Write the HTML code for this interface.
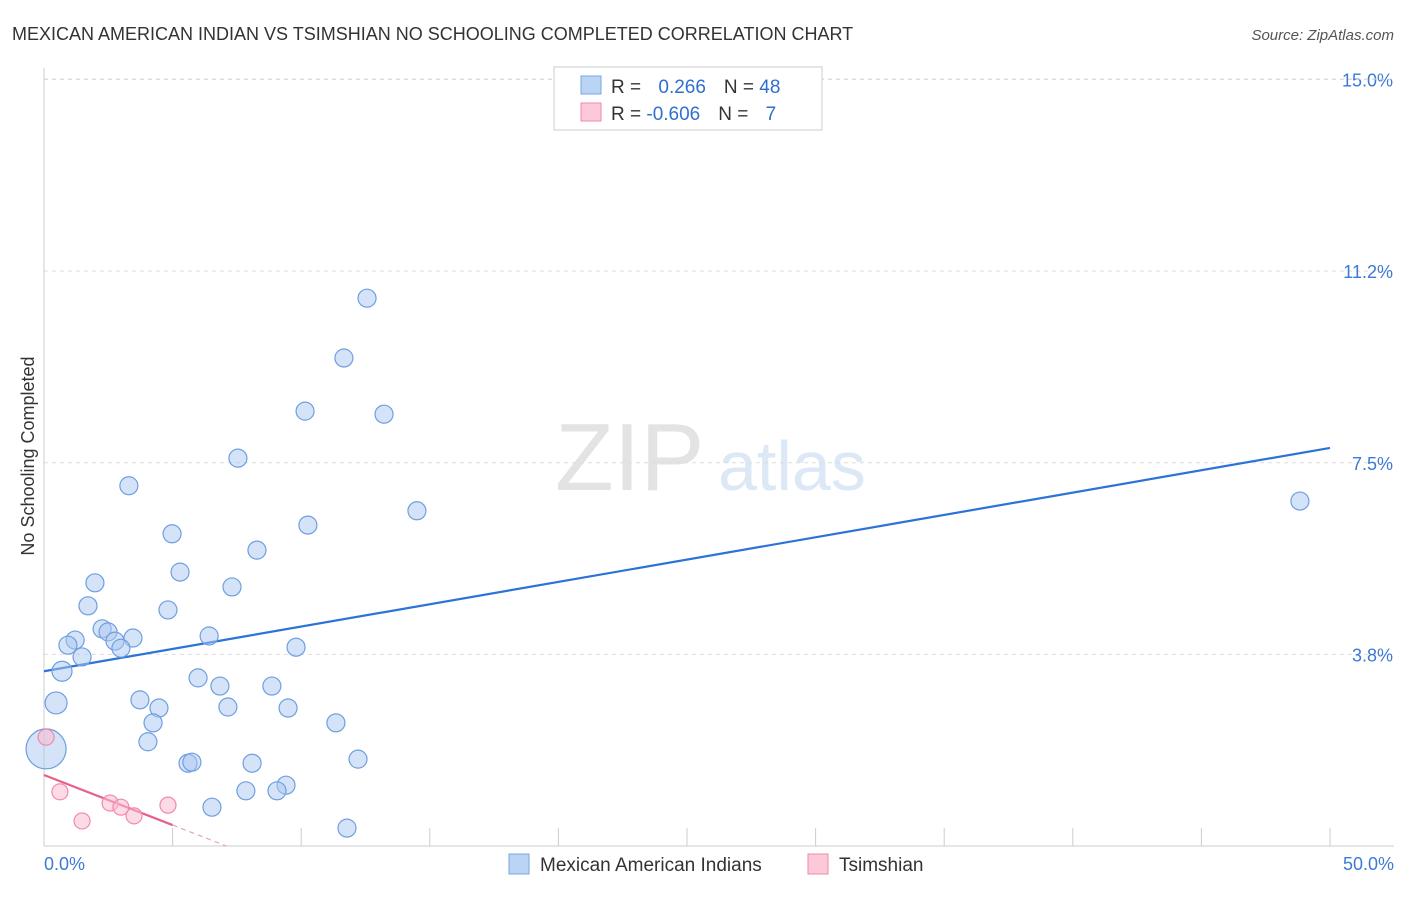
<!DOCTYPE html>
<html><head><meta charset="utf-8"><style>
body{margin:0;background:#fff;font-family:"Liberation Sans",sans-serif;}
svg text{font-family:"Liberation Sans",sans-serif;}
</style></head><body>
<svg id="c" width="1406" height="892">
<text x="12" y="40" font-size="18" fill="#333">MEXICAN AMERICAN INDIAN VS TSIMSHIAN NO SCHOOLING COMPLETED CORRELATION CHART</text>
<text x="1394" y="40" font-size="15" fill="#555" font-style="italic" text-anchor="end">Source: ZipAtlas.com</text>
<text x="34" y="456" font-size="18" fill="#333" transform="rotate(-90 34 456)" text-anchor="middle">No Schooling Completed</text>
<g><text x="555" y="490" font-size="96" font-family="Liberation Serif" fill="#e3e3e3">ZIP</text><text x="718" y="490" font-size="70" fill="#dce8f5">atlas</text></g>
<g id="grid"></g><g id="axes"></g><g id="lines"></g><g id="pts"></g>
<g>
<rect x="554" y="67" width="268" height="63" fill="#fff" stroke="#ccc"/>
<rect x="581" y="76" width="20" height="18" fill="#b9d4f5" stroke="#7aa7e0"/>
<rect x="581" y="103" width="20" height="18" fill="#fbc9d8" stroke="#f08aaa"/>
<text x="611" y="93" font-size="19" fill="#333">R = <tspan fill="#2f6fd0" dx="12">0.266</tspan><tspan fill="#333" dx="18">N = </tspan><tspan fill="#2f6fd0">48</tspan></text>
<text x="611" y="120" font-size="19" fill="#333">R = <tspan fill="#2f6fd0">-0.606</tspan><tspan fill="#333" dx="18">N = </tspan><tspan fill="#2f6fd0" dx="12">7</tspan></text>
</g>
<g>
<rect x="509" y="854" width="20" height="20" fill="#b9d4f5" stroke="#7aa7e0"/>
<text x="540" y="871" font-size="19" fill="#333">Mexican American Indians</text>
<rect x="808" y="854" width="20" height="20" fill="#fbc9d8" stroke="#f08aaa"/>
<text x="839" y="871" font-size="19" fill="#333">Tsimshian</text>
</g>
</svg>
<script>
const yTicks=[3.75,7.5,11.25,15];
const yTickLabels=["3.8%","7.5%","11.2%","15.0%"];
const blueX=[12.56,11.66,10.15,13.22,7.54,3.30,14.50,10.26,4.98,8.28,1.98,5.29,7.31,1.71,4.82,2.26,2.49,1.21,0.93,2.76,3.46,2.99,6.42,1.48,9.80,0.70,0.47,5.99,6.84,8.86,3.73,4.47,7.15,9.49,4.24,11.35,4.04,0.08,5.60,5.75,8.09,12.21,9.41,7.85,9.06,6.53,11.78,48.83];
const blueY=[10.72,9.55,8.51,8.45,7.59,7.05,6.56,6.28,6.11,5.79,5.15,5.36,5.07,4.70,4.62,4.25,4.19,4.03,3.93,4.01,4.07,3.87,4.11,3.70,3.89,3.42,2.80,3.29,3.13,3.13,2.86,2.70,2.72,2.70,2.41,2.41,2.04,1.90,1.62,1.64,1.62,1.70,1.19,1.08,1.08,0.76,0.35,6.75];
const pinkX=[0.08,0.62,1.48,2.57,2.99,3.50,4.82];
const pinkY=[2.13,1.06,0.49,0.84,0.76,0.59,0.80];
const blueTrend=[3.42,0.0874];
const pinkTrend=[1.39,-0.196];
const X=v=>44+v*25.72, Y=v=>846-v*51.1;
const NS="http://www.w3.org/2000/svg";
function mk(p,t,a){const e=document.createElementNS(NS,t);for(const k in a)e.setAttribute(k,a[k]);document.getElementById(p).appendChild(e);return e;}
yTicks.forEach((t,i)=>{
 const l=mk('grid','line',{x1:44,x2:1394,y1:Y(t),y2:Y(t),stroke:'#ddd','stroke-dasharray':'4 4'});
 
 
 const tx=mk('grid','text',{x:1393,y:Y(t)+7,'font-size':18,fill:'#3d7ad6','text-anchor':'end'});tx.textContent=yTickLabels[i];
 
 
});
const g15=mk('grid','line',{x1:44,x2:1394,y1:79,y2:79,stroke:'#ddd','stroke-dasharray':'4 4'});
mk('axes','line',{x1:44,x2:44,y1:68,y2:846,stroke:'#ccc'});
mk('axes','line',{x1:44,x2:1394,y1:846,y2:846,stroke:'#ccc'});
for(let i=0;i<=10;i++){const t=mk('axes','line',{x1:X(i*5),x2:X(i*5),y1:828,y2:846,stroke:'#ccc'});}
const xl0=mk('axes','text',{x:44,y:870,'font-size':18,fill:'#3d7ad6'});xl0.textContent='0.0%';

const xl1=mk('axes','text',{x:1394,y:870,'font-size':18,fill:'#3d7ad6','text-anchor':'end'});xl1.textContent='50.0%';

const bl=mk('lines','line',{x1:X(0),y1:Y(blueTrend[0]),x2:X(50),y2:Y(blueTrend[0]+50*blueTrend[1]),stroke:'#2b73d6','stroke-width':2.2});

const pl=mk('lines','line',{x1:X(0),y1:Y(pinkTrend[0]),x2:X(5),y2:Y(pinkTrend[0]+5*pinkTrend[1]),stroke:'#e8608a','stroke-width':2.2});

const x0=-pinkTrend[0]/pinkTrend[1];
const pd=mk('lines','line',{x1:X(5),y1:Y(pinkTrend[0]+5*pinkTrend[1]),x2:X(x0),y2:Y(0),stroke:'#f0a0b8','stroke-width':1.2,'stroke-dasharray':'5 4'});

blueX.forEach((x,i)=>{let r=9;if(i==37)r=20;else if(i==26)r=11;else if(i==25)r=10;
 const c=mk('pts','circle',{cx:X(x),cy:Y(blueY[i]),r:r,fill:'rgba(170,200,240,0.5)',stroke:'#6e9fe0','stroke-width':1.2});
 });
pinkX.forEach((x,i)=>{const c=mk('pts','circle',{cx:X(x),cy:Y(pinkY[i]),r:8,fill:'rgba(250,190,210,0.55)',stroke:'#f08aaa','stroke-width':1.2});
 });
</script>
</body></html>
